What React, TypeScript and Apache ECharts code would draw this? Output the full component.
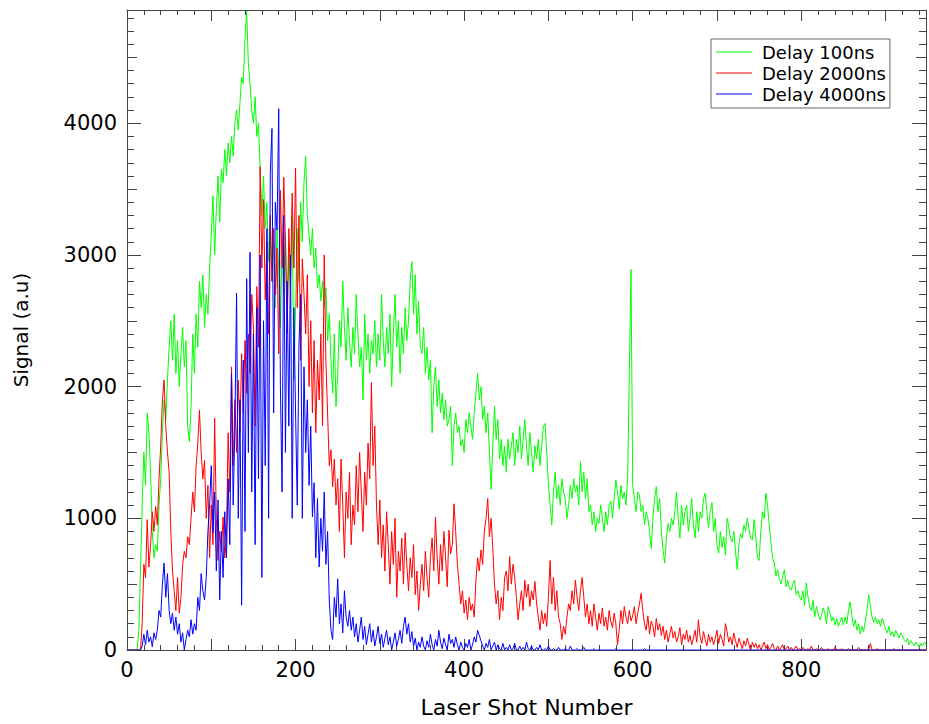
import React, { useEffect, useRef } from "react";
import * as echarts from "echarts";

// Laser shot numbers are sampled every SHOT_STEP shots
const SHOT_STEP = 2;
const SHOT_MAX = 948;
const SIGNAL_MAX = 4860;

const SERIES_NAMES = ["Delay 100ns", "Delay 2000ns", "Delay 4000ns"];
const SERIES_COLORS = ["#00ff00", "#ff0000", "#0000ff"];

const delay100 = [
  0,0,0,0,0,0,0,150,600,1100,1500,1250,1800,1650,1350,900,700,800,750,1100,1300,1650,1900,1750,2050,
  2300,2500,2200,2550,2100,2350,2000,2250,2450,2150,2350,1700,1580,1850,2400,2100,2550,2300,2800,2600,2850,2450,2700,2550,2900,
  3150,3450,3000,3350,3600,3250,3650,3550,3800,3600,3850,3700,3900,3750,4000,4100,3950,4150,4350,4300,4650,4850,4450,4300,4100,
  4000,4200,3900,4000,3650,3300,3600,3200,3400,2950,3250,2800,3100,2600,3200,2900,2450,3050,2700,3150,2550,3000,2750,3300,2050,
  2600,3200,2800,3400,3100,3550,3750,3300,3150,3000,3200,2900,3050,2750,2850,2650,2800,2600,2750,2350,2550,2200,1950,2400,1850,
  2100,2500,2300,2800,2450,2200,2600,2350,2150,2450,2250,2700,2400,2150,2300,1900,2550,2200,2400,2100,2350,2250,2500,2150,2400,
  2200,2700,2350,2150,2450,2250,2550,2000,2400,2700,2300,2500,2100,2450,2250,2600,2350,2500,2800,2950,2550,2850,2400,2650,2300,
  2250,2450,2100,2300,2050,2200,1650,2000,2150,1850,2050,1800,1950,1750,1900,1700,1750,1850,1400,1700,1800,1650,1700,1550,1600,
  1500,1750,1650,1800,1700,1600,1800,1950,2100,1900,2000,1750,1850,1650,1800,1500,1220,1550,1850,1600,1750,1450,1600,1400,1550,
  1350,1600,1450,1550,1650,1400,1600,1500,1700,1450,1600,1750,1550,1400,1650,1500,1350,1550,1450,1600,1400,1550,1700,1720,1500,
  1250,1100,950,1200,1350,1150,1250,1100,1300,1200,1150,1000,1100,1250,1150,1300,1200,1250,1100,1430,1200,1350,1150,1300,1050,
  1100,950,1050,900,1000,960,1100,1000,900,1050,950,1100,1130,1000,1150,1290,1200,1070,1250,1150,1200,1100,1300,2100,2890,
  1250,1150,1050,1200,1180,1050,1100,950,1050,1000,900,770,1000,1150,1240,1050,1150,900,760,660,850,960,900,1000,950,
  1050,1200,1000,850,1100,950,1050,1100,900,1000,1150,950,850,1050,900,1050,1000,1150,1190,1050,930,1050,1120,900,1000,
  800,735,900,780,860,720,1000,935,850,820,900,750,610,800,880,850,950,900,1000,920,850,835,990,870,700,
  680,900,1050,1000,1190,1100,950,820,700,660,560,610,540,500,560,610,480,530,470,455,500,530,420,450,400,
  380,450,340,510,400,330,300,380,250,330,280,230,260,320,280,200,330,280,220,250,190,240,180,210,250,
  190,250,200,300,365,260,180,230,150,200,120,180,140,220,300,420,330,250,210,250,200,230,180,240,200,
  160,130,180,110,140,100,150,120,90,130,110,80,60,90,40,70,50,30,60,40,20,50,30,60,40,
];

const delay2000 = [
  0,0,0,0,0,0,0,0,0,200,650,550,990,630,800,1050,900,1090,950,1300,1550,1900,2050,1700,1500,
  1350,900,600,450,300,550,280,400,650,750,700,860,800,1000,1200,1050,1400,1570,1820,1500,1300,1440,1000,1250,700,
  1100,800,1760,1000,680,900,750,1010,700,850,1650,1200,2150,1400,1900,1500,2050,1650,2250,1800,2350,1950,2400,2100,2700,
  2450,1700,2760,2300,3670,2900,3420,2660,3100,2400,3300,2800,3200,2700,3050,2250,3490,2900,3590,3100,2400,3200,2800,3470,2900,
  3660,2600,3300,2200,2970,2700,2400,2850,2000,2500,1800,2350,1650,2200,1900,2400,1700,3000,2190,1800,1400,1520,1240,1450,1100,
  1300,900,1450,1100,700,1200,1000,1350,800,1100,950,1400,1050,1500,1200,900,1350,1100,1570,1300,2030,1400,1700,1100,800,
  1140,700,950,600,1050,800,500,900,650,1000,400,750,600,850,500,890,650,450,700,550,800,420,600,300,500,
  650,450,750,550,400,700,850,600,1010,700,500,800,600,900,700,480,910,730,800,1110,900,650,500,350,450,
  280,380,230,400,300,350,250,530,700,600,760,650,900,1000,1150,860,1000,770,500,350,450,230,400,300,550,
  600,450,710,500,650,550,400,230,350,450,300,530,400,500,330,450,380,520,350,250,150,300,200,280,180,
  400,680,350,550,300,450,250,200,80,180,120,250,350,300,450,350,530,400,300,450,550,400,250,350,200,
  300,180,350,250,150,280,200,320,180,250,150,300,220,170,280,200,40,150,300,200,330,250,200,300,220,
  260,330,200,280,350,430,300,200,150,260,120,220,180,100,240,150,200,110,180,80,150,60,120,180,90,
  140,60,100,170,40,120,80,150,60,110,40,90,150,60,230,100,50,140,80,30,120,60,100,40,90,
  150,50,120,80,30,200,140,60,100,40,130,70,20,90,50,10,70,30,90,40,0,60,20,50,10,
  40,0,30,60,10,40,0,20,50,10,0,30,0,20,40,0,10,30,0,20,0,10,30,0,10,
  0,20,0,0,10,0,30,0,0,10,0,0,20,0,0,0,10,0,0,0,20,0,0,0,10,
  0,0,0,10,0,0,0,0,0,20,0,0,0,0,0,0,50,0,0,0,10,0,0,0,0,
  0,0,0,0,0,10,0,0,0,0,0,0,0,0,0,0,0,0,0,0,0,0,0,0,0,
];

const delay4000 = [
  0,0,0,0,0,0,0,0,0,30,120,40,150,60,100,25,130,80,150,300,250,500,660,400,580,
  300,200,280,150,250,120,200,60,130,0,80,150,100,230,120,200,150,400,300,580,450,380,550,900,1100,
  1400,890,1200,600,1140,380,900,550,1050,700,1300,800,2100,1100,1700,2710,1000,1900,340,2200,900,2820,1500,3020,1200,
  2400,800,2600,1300,3000,550,2500,1400,3200,1000,3620,3960,1800,3400,3190,4110,2000,1200,3300,1500,2800,1700,3000,1000,2600,
  1800,1100,2300,2700,1000,2150,1500,1900,1250,1700,1010,1270,700,1150,630,1000,750,1200,650,900,380,150,80,400,250,
  540,200,350,130,450,250,180,300,150,250,100,200,60,150,250,80,180,40,120,200,60,150,30,100,180,
  50,120,20,90,150,40,100,0,60,130,30,80,150,50,180,250,120,200,60,140,30,90,0,60,20,
  100,30,0,70,20,120,40,0,80,30,150,60,10,90,40,0,120,50,80,20,100,40,0,60,20,
  0,50,20,80,0,40,100,60,150,110,70,30,0,50,20,80,0,30,60,0,40,10,0,50,0,
  20,0,40,0,10,50,0,0,30,0,20,0,60,10,0,30,0,0,20,0,40,0,0,10,0,
  30,0,0,10,0,0,20,0,0,0,10,0,0,30,0,0,0,10,0,0,0,20,0,0,0,
  0,0,10,0,0,0,0,0,0,0,0,0,0,0,0,10,0,0,0,0,0,0,0,0,0,
  0,0,0,0,0,0,0,10,0,0,0,0,0,0,0,0,0,0,0,0,0,0,0,0,0,
  0,0,0,0,0,0,0,0,0,0,0,0,0,0,0,0,0,0,0,0,0,0,0,0,0,
  0,0,0,0,0,0,0,0,0,0,0,0,0,0,0,0,0,0,0,0,0,0,0,0,0,
  0,0,0,0,0,0,0,0,0,0,0,0,0,0,0,0,0,0,0,0,0,0,0,0,0,
  0,0,0,0,0,0,0,0,0,0,0,0,0,0,0,0,0,0,0,0,0,0,0,0,0,
  0,0,0,0,0,0,0,0,0,0,0,0,0,0,0,0,0,0,0,0,0,0,0,0,0,
  0,0,0,0,0,0,0,0,0,0,0,0,0,0,0,0,0,0,0,0,0,0,0,0,0,
];

const SERIES_VALUES = [delay100, delay2000, delay4000];

const FONT = "DejaVu Sans";
const AXIS_COLOR = "#444";

function xAxisDef(position: "bottom" | "top", labels: boolean) {
  return {
    type: "value",
    position,
    min: 0,
    max: SHOT_MAX,
    interval: 100,
    name: labels ? "Laser Shot Number" : "",
    nameLocation: "middle",
    nameGap: 46,
    nameTextStyle: { fontFamily: FONT, fontSize: 22, color: "#000" },
    axisLine: { show: true, onZero: false, lineStyle: { color: AXIS_COLOR, width: 1 } },
    axisTick: { show: true, inside: true, length: 11, lineStyle: { color: AXIS_COLOR } },
    minorTick: { show: true, splitNumber: 5, length: 5, lineStyle: { color: AXIS_COLOR } },
    axisLabel: {
      show: labels,
      margin: 9,
      fontFamily: FONT,
      fontSize: 21,
      color: "#000",
      formatter: (v: number) => (v % 200 === 0 ? String(v) : ""),
    },
    splitLine: { show: false },
    minorSplitLine: { show: false },
  };
}

function yAxisDef(position: "left" | "right", interval: number, major: boolean, labels: boolean) {
  return {
    type: "value",
    position,
    min: 0,
    max: SIGNAL_MAX,
    interval,
    name: labels ? "Signal (a.u)" : "",
    nameLocation: "middle",
    nameGap: 96,
    nameTextStyle: { fontFamily: FONT, fontSize: 20, color: "#000" },
    axisLine: { show: major, onZero: false, lineStyle: { color: AXIS_COLOR, width: 1 } },
    axisTick: { show: true, inside: true, length: major ? 14 : 10, lineStyle: { color: AXIS_COLOR } },
    minorTick: { show: major, splitNumber: 10, length: 7, lineStyle: { color: AXIS_COLOR } },
    axisLabel: {
      show: labels,
      margin: 10,
      fontFamily: FONT,
      fontSize: 21,
      color: "#000",
      formatter: (v: number) => (v % 1000 === 0 ? String(v) : ""),
    },
    splitLine: { show: false },
    minorSplitLine: { show: false },
  };
}

export default function App() {
  const ref = useRef<HTMLDivElement>(null);

  useEffect(() => {
    if (!ref.current) return;
    const chart = echarts.init(ref.current, null, { renderer: "svg" });
    const series = SERIES_VALUES.map((vals, k) => ({
      name: SERIES_NAMES[k],
      type: "line",
      xAxisIndex: 0,
      yAxisIndex: 0,
      data: vals.map((v, i) => [i * SHOT_STEP, v]),
      showSymbol: false,
      symbol: "none",
      silent: true,
      color: SERIES_COLORS[k],
      lineStyle: { color: SERIES_COLORS[k], width: 1 },
      emphasis: { disabled: true },
    }));
    chart.setOption({
      animation: false,
      backgroundColor: "#fff",
      grid: { left: 127, right: 1, top: 10, bottom: 74, containLabel: false },
      legend: {
        data: SERIES_NAMES,
        orient: "vertical",
        left: 711,
        top: 39,
        padding: [3, 4, 4, 5],
        itemGap: 1,
        itemWidth: 36,
        itemHeight: 1,
        icon: "rect",
        borderColor: "#666",
        borderWidth: 1,
        borderRadius: 0,
        backgroundColor: "#fff",
        selectedMode: false,
        textStyle: {
          fontFamily: FONT,
          fontSize: 18,
          color: "#000",
          lineHeight: 20,
          padding: [0, 0, 0, 5],
        },
      },
      xAxis: [xAxisDef("bottom", true), xAxisDef("top", false)],
      yAxis: [
        yAxisDef("left", 1000, true, true),
        yAxisDef("left", 500, false, false),
        yAxisDef("right", 1000, true, false),
        yAxisDef("right", 500, false, false),
      ],
      series,
    });
    return () => chart.dispose();
  }, []);

  return (
    <div
      ref={ref}
      style={{ position: "absolute", left: 0, top: 0, width: 929, height: 724 }}
    />
  );
}
